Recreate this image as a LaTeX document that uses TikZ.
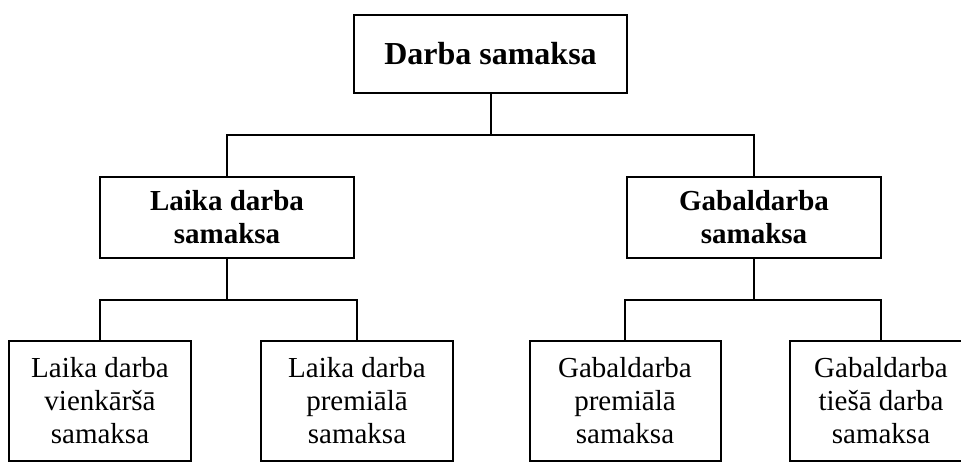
\documentclass[tikz,border=0pt]{standalone}
\usepackage{fontspec}
\setmainfont{Liberation Serif}
\begin{document}
\begin{tikzpicture}[x=1pt,y=1pt,
  box/.style={draw=black,line width=2pt,rectangle,inner sep=0pt,align=center,
    font=\fontsize{29}{33}\selectfont},
  conn/.style={draw=black,line width=2pt}]
\useasboundingbox (0,0) rectangle (961,-462);
\node[box,minimum width=273pt,minimum height=78pt,font=\fontsize{32}{36}\selectfont\bfseries] (top) at (490.5,-54) {Darba samaksa};
\node[box,minimum width=254pt,minimum height=81pt,font=\fontsize{29}{33}\selectfont\bfseries] (l2l) at (227,-217.5) {Laika darba\\samaksa};
\node[box,minimum width=254pt,minimum height=81pt,font=\fontsize{29}{33}\selectfont\bfseries] (l2r) at (754,-217.5) {Gabaldarba\\samaksa};
\node[box,minimum width=182pt,minimum height=120pt] (b1) at (100,-401) {Laika darba\\vienkāršā\\samaksa};
\node[box,minimum width=192pt,minimum height=120pt] (b2) at (357,-401) {Laika darba\\premiālā\\samaksa};
\node[box,minimum width=191pt,minimum height=120pt] (b3) at (625,-401) {Gabaldarba\\premiālā\\samaksa};
\node[box,minimum width=182pt,minimum height=120pt] (b4) at (881,-401) {Gabaldarba\\tiešā darba\\samaksa};
\coordinate (j1) at (490.5,-135);
\coordinate (j2) at (227,-300);
\coordinate (j3) at (754,-300);
\draw[conn] (top.south) -- (j1);
\draw[conn] (l2l.north) |- (j1) -| (l2r.north);
\draw[conn] (l2l.south) -- (j2);
\draw[conn] (b1.north) |- (j2) -| (b2.north);
\draw[conn] (l2r.south) -- (j3);
\draw[conn] (b3.north) |- (j3) -| (b4.north);
\end{tikzpicture}
\end{document}
